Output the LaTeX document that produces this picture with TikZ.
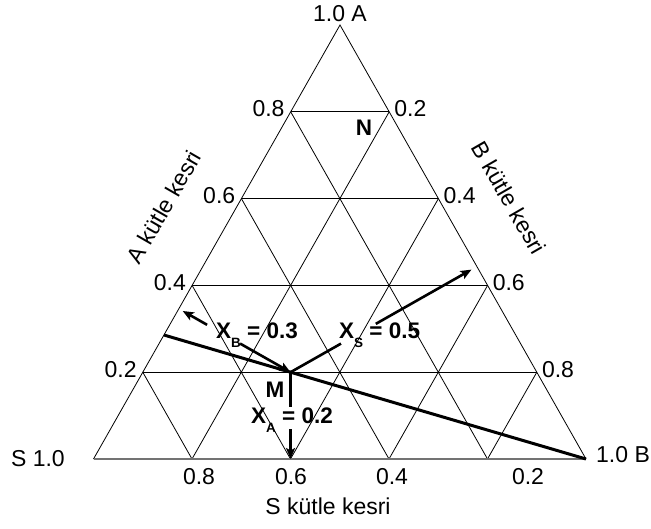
\documentclass[tikz,border=0pt]{standalone}
\usepackage{fontspec}
\setmainfont{Liberation Sans}
\usetikzlibrary{calc,arrows.meta}
% lowered subscript used in the composition labels
\newcommand\lowsub[1]{\raisebox{-0.42em}{\fontsize{13.5}{13.5}\selectfont #1}}
\begin{document}
\begin{tikzpicture}[x=1pt,y=-1pt,
  gridline/.style={line width=0.8pt},
  lbl/.style={font=\fontsize{23}{27}\selectfont, inner sep=0pt},
  blbl/.style={font=\fontsize{22.5}{27}\selectfont\bfseries, inner sep=0pt},
  arr/.style={line width=2.6pt, -{Stealth[length=11pt,width=9pt,inset=2.5pt]}},
  bar/.style={line width=2.6pt}]
\useasboundingbox (0,0) rectangle (651,528);
% triangle corners
\coordinate (S) at (93.5,459);
\coordinate (B) at (586,459);
\coordinate (A) at (340,25);
% grid lines every 0.2
\foreach \t in {0.2,0.4,0.6,0.8} {
  \draw[gridline] ($(S)!\t!(A)$) -- ($(B)!\t!(A)$);
  \draw[gridline] ($(S)!\t!(B)$) -- ($(A)!\t!(B)$);
  \draw[gridline] ($(B)!\t!(S)$) -- ($(A)!\t!(S)$);
}
\draw[gridline] (S) -- (A) -- (B);
\draw[line width=1.6pt, black!55] (S) -- (B);
% mixture point M and feet of the perpendiculars
\coordinate (M) at ($0.2*(A)+0.3*(B)+0.5*(S)$);
\coordinate (P) at ($(S)!0.285714!(A)$);
\coordinate (FA) at ($(S)!(M)!(B)$);
\coordinate (FB) at ($(S)!(M)!(A)$);
\coordinate (FS) at ($(A)!(M)!(B)$);
% line from B through M
\draw[line width=3pt] (B) -- (P);
% composition arrows
\draw[arr] ($(M)!58pt!(FB)$) -- (M);
\draw[arr] ($(M)!96pt!(FB)$) -- ($(M)!124pt!(FB)$);
\draw[bar] (M) -- ($(M)!58pt!(FS)$);
\draw[arr] ($(M)!98pt!(FS)$) -- ($(M)!208pt!(FS)$);
\draw[bar] (M) -- ($(M)!35pt!(FA)$);
\draw[arr] ($(M)!57pt!(FA)$) -- (FA);
% corner labels
\node[lbl] (lA) at (340,14) {1.0 A};
\node[lbl, anchor=east] (lS) at (65,459) {S 1.0};
\node[lbl, anchor=west] (lB) at (596,455) {1.0 B};
% scale labels
\foreach \t in {0.2,0.4,0.6,0.8} {
  \node[lbl, anchor=east] at ($(S)!\t!(A)+(-6,-3)$) {\t};
  \node[lbl, anchor=west] at ($(A)!\t!(B)+(5,-3)$) {\t};
}
\node[lbl] (b8) at (199,477) {0.8};
\node[lbl] (b6) at (291,477) {0.6};
\node[lbl] (b4) at (392,477) {0.4};
\node[lbl] (b2) at (528,477) {0.2};
% axis titles
\node[lbl, rotate=60] (tA) at (164,207) {A kütle kesri};
\node[lbl, rotate=-60] (tB) at (509,198) {B kütle kesri};
\node[lbl] (tS) at (328,506) {S kütle kesri};
% point labels
\node[blbl] (nN) at (364,128) {N};
\node[blbl] (nM) at (275,390) {M};
\node[blbl, anchor=base west] (xB) at (216,338) {X\lowsub{B} = 0.3};
\node[blbl, anchor=base west] (xS) at (339,338) {X\lowsub{S} = 0.5};
\node[blbl, anchor=base west] (xA) at (251,423) {X\lowsub{A} = 0.2};
\end{tikzpicture}
\end{document}
